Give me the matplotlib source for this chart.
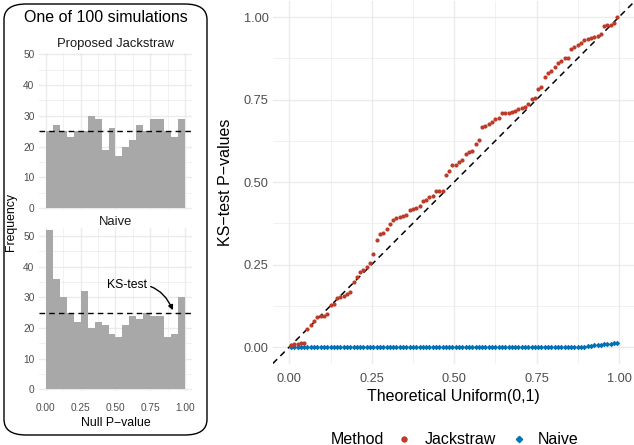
import matplotlib
matplotlib.use("Agg")
import matplotlib.pyplot as plt
from matplotlib.patches import FancyBboxPatch
from matplotlib.lines import Line2D
import numpy as np

plt.rcParams["font.family"] = ["Liberation Sans", "DejaVu Sans"]

# histogram counts, 20 bins of width 0.05 over [0, 1]
bin_edges = [0.00, 0.05, 0.10, 0.15, 0.20, 0.25, 0.30, 0.35, 0.40, 0.45, 0.50,
             0.55, 0.60, 0.65, 0.70, 0.75, 0.80, 0.85, 0.90, 0.95, 1.00]
jackstraw_counts = [25, 27, 25, 23, 25, 25, 30, 29, 19, 26,
                    17, 20, 22, 27, 25, 29, 29, 25, 23, 29]
naive_counts = [52, 36, 30, 25, 22, 32, 20, 22, 21, 18,
                17, 21, 24, 23, 25, 24, 24, 17, 18, 30]
expected_count = 25

# sorted KS-test p-values (100 simulations)
jackstraw_ks = [0.005, 0.008, 0.010, 0.012, 0.013, 0.054, 0.068, 0.079, 0.092, 0.093,
                0.095, 0.100, 0.128, 0.131, 0.148, 0.152, 0.156, 0.162, 0.168, 0.198,
                0.211, 0.228, 0.234, 0.244, 0.256, 0.283, 0.325, 0.344, 0.347, 0.358,
                0.373, 0.386, 0.390, 0.394, 0.397, 0.401, 0.414, 0.418, 0.421, 0.426,
                0.444, 0.447, 0.456, 0.458, 0.472, 0.474, 0.474, 0.520, 0.533, 0.551,
                0.553, 0.562, 0.567, 0.584, 0.590, 0.593, 0.614, 0.627, 0.666, 0.669,
                0.676, 0.683, 0.690, 0.693, 0.708, 0.709, 0.708, 0.712, 0.715, 0.720,
                0.725, 0.728, 0.735, 0.753, 0.756, 0.783, 0.789, 0.818, 0.831, 0.835,
                0.848, 0.861, 0.868, 0.875, 0.877, 0.903, 0.910, 0.915, 0.921, 0.931,
                0.933, 0.935, 0.940, 0.943, 0.948, 0.972, 0.975, 0.976, 0.981, 0.999]
naive_ks = [0.000, 0.000, 0.000, 0.000, 0.000, 0.000, 0.000, 0.000, 0.000, 0.000,
            0.000, 0.000, 0.000, 0.000, 0.000, 0.000, 0.000, 0.000, 0.000, 0.000,
            0.000, 0.000, 0.000, 0.000, 0.000, 0.000, 0.000, 0.000, 0.000, 0.000,
            0.000, 0.000, 0.000, 0.000, 0.000, 0.000, 0.000, 0.000, 0.000, 0.000,
            0.000, 0.000, 0.000, 0.000, 0.000, 0.000, 0.000, 0.000, 0.000, 0.000,
            0.000, 0.000, 0.000, 0.000, 0.000, 0.000, 0.000, 0.000, 0.000, 0.000,
            0.000, 0.000, 0.000, 0.000, 0.000, 0.000, 0.000, 0.000, 0.000, 0.000,
            0.000, 0.000, 0.000, 0.000, 0.000, 0.000, 0.000, 0.000, 0.000, 0.000,
            0.000, 0.000, 0.000, 0.000, 0.000, 0.000, 0.000, 0.000, 0.000, 0.001,
            0.002, 0.004, 0.005, 0.006, 0.007, 0.008, 0.009, 0.010, 0.011, 0.013]
n_sim = len(jackstraw_ks)
theoretical = (np.arange(1, n_sim + 1) - 0.5) / n_sim

red = "#BC3C29"
blue = "#0072B5"
grid_col = "#EBEBEB"
tick_col = "#4D4D4D"

fig = plt.figure(figsize=(6.34, 4.45), dpi=100)


def minimal_style(ax, xmaj, xmin, ymaj, ymin, tick_size, xpad=3):
    for s in ax.spines.values():
        s.set_visible(False)
    ax.set_xticks(xmaj)
    ax.set_xticks(xmin, minor=True)
    ax.set_yticks(ymaj)
    ax.set_yticks(ymin, minor=True)
    ax.grid(which="major", color=grid_col, lw=1.0)
    ax.grid(which="minor", color=grid_col, lw=0.5)
    ax.set_axisbelow(True)
    ax.tick_params(which="both", length=0, colors=tick_col, labelsize=tick_size)
    ax.tick_params(axis="y", pad=3)
    ax.tick_params(axis="x", pad=xpad)


# left panel box
box = FancyBboxPatch((4 / 634, 1 - 435 / 445), 203 / 634, 431 / 445,
                     boxstyle="round,pad=0,rounding_size=0.035",
                     transform=fig.transFigure, fill=False, ec="black", lw=1.0)
fig.patches.append(box)
fig.text(106 / 634, 1 - 17 / 445, "One of 100 simulations", ha="center", va="center", fontsize=11.5)

hx_maj = [0, 0.25, 0.5, 0.75, 1.0]
hx_min = [0.125, 0.375, 0.625, 0.875]
hy_maj = [0, 10, 20, 30, 40, 50]
hy_min = [5, 15, 25, 35, 45]

ax1 = fig.add_axes([0.061, 0.5276, 0.2423, 0.3537])
ax1.bar(bin_edges[:-1], jackstraw_counts, width=0.05, align="edge", color="#A8A8A8", lw=0)
ax1.axhline(expected_count, color="black", ls=(0, (4, 3)), lw=1.0)
ax1.set_xlim(-0.05, 1.05)
ax1.set_ylim(-0.7, 50.5)
minimal_style(ax1, hx_maj, hx_min, hy_maj, hy_min, 7.3)
ax1.set_xticklabels([])
ax1.set_title("Proposed Jackstraw", fontsize=9.4, color="#1A1A1A", pad=4)

ax2 = fig.add_axes([0.061, 0.1204, 0.2423, 0.3665])
ax2.bar(bin_edges[:-1], naive_counts, width=0.05, align="edge", color="#A8A8A8", lw=0)
ax2.axhline(expected_count, color="black", ls=(0, (4, 3)), lw=1.0)
ax2.set_xlim(-0.05, 1.05)
ax2.set_ylim(-0.7, 52.5)
minimal_style(ax2, hx_maj, hx_min, hy_maj, hy_min, 7.3, xpad=8)
ax2.set_xticklabels(["0.00", "0.25", "0.50", "0.75", "1.00"])
ax2.set_title("Naive", fontsize=9.4, color="#1A1A1A", pad=2)
ax2.set_xlabel("Null P\u2212value", fontsize=8.8, labelpad=3)
ax2.annotate("KS-test", xy=(0.91, 25.8), xytext=(0.58, 34), fontsize=8.8,
             ha="center", va="center",
             arrowprops=dict(arrowstyle="-|>", color="black", lw=1.0,
                             connectionstyle="arc3,rad=-0.4", shrinkA=1, shrinkB=0,
                             mutation_scale=7))
fig.text(11 / 634, 1 - 222 / 445, "Frequency", rotation=90, ha="center", va="center", fontsize=8.8)

# QQ panel
ax3 = fig.add_axes([0.4303, 0.1831, 0.5694, 0.8157])
ax3.plot([-0.05, 1.05], [-0.05, 1.05], color="black", ls=(0, (4, 3)), lw=1.1, zorder=2)
ax3.scatter(theoretical, naive_ks, marker="D", s=8, color=blue, lw=0, zorder=3)
ax3.scatter(theoretical, jackstraw_ks, marker="o", s=9, color=red, lw=0, zorder=3)
ax3.set_xlim(-0.05, 1.045)
ax3.set_ylim(-0.05, 1.05)
qt = [0, 0.25, 0.5, 0.75, 1.0]
qm = [0.125, 0.375, 0.625, 0.875]
minimal_style(ax3, qt, qm, qt, qm, 9.2, xpad=7)
ax3.set_xticklabels(["0.00", "0.25", "0.50", "0.75", "1.00"])
ax3.set_yticklabels(["0.00", "0.25", "0.50", "0.75", "1.00"])
ax3.set_xlabel("Theoretical Uniform(0,1)", fontsize=11.5, labelpad=3)
ax3.set_ylabel("KS\u2212test P\u2212values", fontsize=11.5, labelpad=8)

# legend, drawn by hand to place the title at the left
legend_y = 1 - 439 / 445
fig.text(357 / 634, legend_y, "Method", ha="center", va="center", fontsize=11.5)
fig.add_artist(Line2D([404 / 634], [legend_y], marker="o", ls="", color=red,
                      markersize=3.6, transform=fig.transFigure))
fig.text(425 / 634, legend_y, "Jackstraw", ha="left", va="center", fontsize=11.5)
fig.add_artist(Line2D([519 / 634], [legend_y], marker="D", ls="", color=blue,
                      markersize=3.2, transform=fig.transFigure))
fig.text(538 / 634, legend_y, "Naive", ha="left", va="center", fontsize=11.5)

fig.savefig("out.png", dpi=100)
